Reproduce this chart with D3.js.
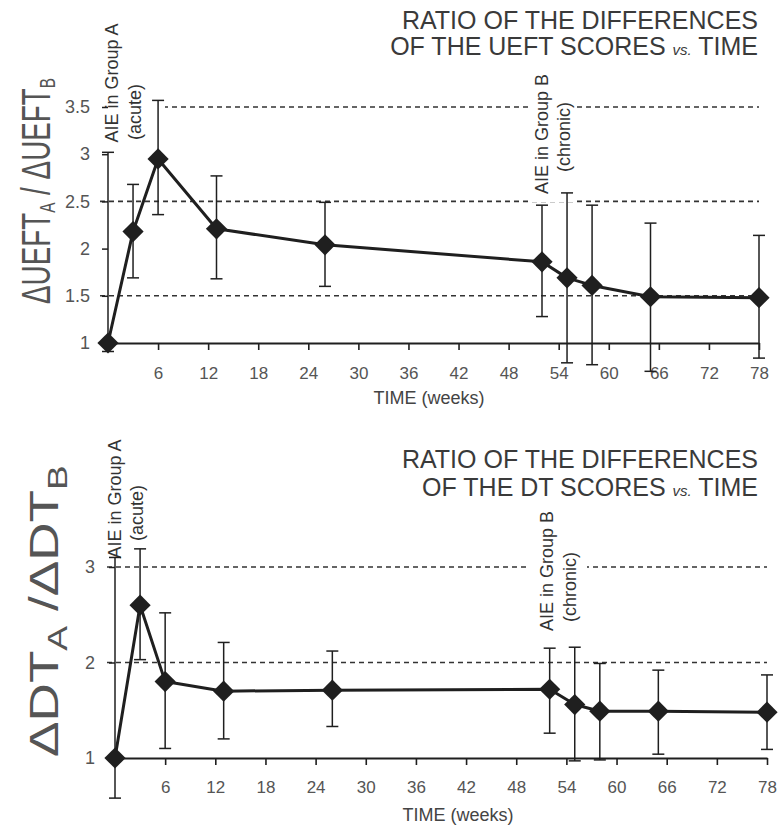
<!DOCTYPE html>
<html>
<head>
<meta charset="utf-8">
<script src="https://cdn.jsdelivr.net/npm/d3@7"></script>
<style>
  html, body { margin: 0; padding: 0; background: #ffffff; }
  svg { display: block; font-family: "Liberation Sans", Arial, sans-serif; }
</style>
</head>
<body>
<script>
// ---------------- DATA ----------------
const weeks = [0, 3, 6, 13, 26, 52, 55, 58, 65, 78];

const ueftRatio = [1.00, 2.18, 2.95, 2.21, 2.04, 1.86, 1.69, 1.61, 1.49, 1.48];
const ueftLow   = [0.91, 1.69, 2.36, 1.68, 1.60, 1.28, 0.79, 0.77, 0.70, 0.84];
const ueftHigh  = [3.02, 2.68, 3.57, 2.77, 2.49, 2.46, 2.59, 2.46, 2.27, 2.14];

const dtRatio = [1.00, 2.60, 1.80, 1.70, 1.71, 1.72, 1.56, 1.49, 1.49, 1.48];
const dtLow   = [0.58, 2.03, 1.10, 1.20, 1.33, 1.26, 0.97, 0.98, 1.04, 1.09];
const dtHigh  = [3.10, 3.19, 2.52, 2.21, 2.12, 2.15, 2.16, 1.99, 1.92, 1.87];

const xTicks = [6, 12, 18, 24, 30, 36, 42, 48, 54, 60, 66, 72, 78];
const ueftYTicks = [1, 1.5, 2, 2.5, 3, 3.5];
const ueftGrid = [1.5, 2.5, 3.5];
const dtYTicks = [1, 2, 3];
const dtGrid = [2, 3];

const ueftTitle = ["RATIO OF THE DIFFERENCES", "OF THE UEFT SCORES", "TIME"];
const dtTitle = ["RATIO OF THE DIFFERENCES", "OF THE DT SCORES", "TIME"];
const xLabel = "TIME (weeks)";
const annA = ["AIE in Group A", "(acute)"];
const annB = ["AIE in Group B", "(chronic)"];

// ---------------- DRAW ----------------
const W = 779, H = 827;
const INK = "#1f1f1f";
const svg = d3.select("body").append("svg").attr("width", W).attr("height", H);

function drawPanel(cfg) {
  const x = d3.scaleLinear().domain([0, 78]).range(cfg.xRange);
  const y = d3.scaleLinear().domain(cfg.yDomain).range(cfg.yRange);
  const g = svg.append("g");

  // dashed gridlines
  g.selectAll("line.grid").data(cfg.grid).join("line")
    .attr("class", "grid")
    .attr("x1", x(0) - 8).attr("x2", x(78))
    .attr("y1", d => y(d)).attr("y2", d => y(d))
    .attr("stroke", "#333").attr("stroke-width", 1.6)
    .attr("stroke-dasharray", "5,4");

  // annotation knockout boxes + text
  cfg.ann.forEach(a => {
    if (a.box) {
      g.append("rect").attr("x", a.box[0]).attr("y", a.box[1])
        .attr("width", a.box[2]).attr("height", a.box[3]).attr("fill", "#fff");
    }
    a.lines.forEach((t, i) => {
      g.append("text")
        .attr("transform", `translate(${a.pos[i][0]},${a.pos[i][1]}) rotate(-90)`)
        .attr("text-anchor", "middle")
        .attr("font-size", 18).attr("fill", "#333")
        .text(t);
    });
  });

  // x axis
  const xa = g.append("g")
    .attr("transform", `translate(0,${y(1)})`)
    .call(d3.axisBottom(x).tickValues(xTicks).tickSize(7).tickSizeOuter(0)
      .tickPadding(cfg.xPad).tickFormat(d3.format("d")));
  xa.select(".domain").attr("stroke", INK).attr("stroke-width", 2);
  xa.selectAll(".tick line").attr("stroke", INK).attr("stroke-width", 1.6);
  xa.selectAll(".tick text").attr("font-size", 17).attr("fill", "#555")
    .attr("font-family", "'Liberation Sans', Arial, sans-serif");

  // y axis
  const ya = g.append("g")
    .attr("transform", `translate(${x(0)},0)`)
    .call(d3.axisLeft(y).tickValues(cfg.yTicks).tickSize(6)
      .tickPadding(cfg.yPad).tickFormat(d3.format("~g")));
  ya.select(".domain").remove();
  ya.selectAll(".tick line").attr("stroke", INK).attr("stroke-width", 1.5);
  ya.selectAll(".tick text").attr("font-size", 18).attr("fill", "#555")
    .attr("font-family", "'Liberation Sans', Arial, sans-serif");

  // x label
  g.append("text").attr("x", cfg.xLabelPos[0]).attr("y", cfg.xLabelPos[1])
    .attr("text-anchor", "middle").attr("font-size", 18).attr("fill", "#444")
    .text(xLabel);

  // title
  const tt = g.append("g").attr("font-size", 25).attr("fill", "#3a3a3a");
  tt.append("text").attr("x", 758).attr("y", cfg.titleY[0])
    .attr("text-anchor", "end").text(cfg.title[0]);
  const t2 = tt.append("text").attr("x", 758).attr("y", cfg.titleY[1])
    .attr("text-anchor", "end");
  t2.append("tspan").text(cfg.title[1] + " ");
  t2.append("tspan").attr("font-size", 15).attr("font-style", "italic").text("vs.");
  t2.append("tspan").text(" " + cfg.title[2]);

  // y label (rotated, scaled to reference length)
  const yl = g.append("text")
    .attr("font-size", 40).attr("fill", "#555").attr("text-anchor", "start");
  cfg.yLabel.forEach(p => {
    const ts = yl.append("tspan").text(p.t);
    if (p.sub) ts.attr("font-size", cfg.subSize).attr("dy", cfg.subDy);
    if (p.back) ts.attr("dy", -cfg.subDy);
  });
  const nat = yl.node().getComputedTextLength();
  const sx = cfg.yLabelLen / nat;
  yl.attr("transform",
    `translate(${cfg.yLabelBase},${cfg.yLabelBottom}) rotate(-90) scale(${sx},1)`);

  const data = cfg.v.map((v, i) => ({ w: weeks[i], v, lo: cfg.lo[i], hi: cfg.hi[i] }));

  // error bars
  const eb = g.append("g").attr("stroke", INK).attr("stroke-width", 1.5);
  data.forEach(d => {
    eb.append("line").attr("x1", x(d.w)).attr("x2", x(d.w))
      .attr("y1", y(d.lo)).attr("y2", y(d.hi));
    eb.append("line").attr("x1", x(d.w) - 6).attr("x2", x(d.w) + 6)
      .attr("y1", y(d.lo)).attr("y2", y(d.lo));
    eb.append("line").attr("x1", x(d.w) - 6).attr("x2", x(d.w) + 6)
      .attr("y1", y(d.hi)).attr("y2", y(d.hi));
  });

  // line
  g.append("path").datum(data)
    .attr("fill", "none").attr("stroke", INK).attr("stroke-width", 3)
    .attr("stroke-linejoin", "round")
    .attr("d", d3.line().x(d => x(d.w)).y(d => y(d.v)));

  // diamonds
  g.selectAll("path.pt").data(data).join("path")
    .attr("class", "pt")
    .attr("d", d3.symbol(d3.symbolSquare, 225))
    .attr("transform", d => `translate(${x(d.w)},${y(d.v)}) rotate(45)`)
    .attr("fill", INK);
}

drawPanel({
  xRange: [108, 759], yDomain: [1, 3.5], yRange: [343, 107],
  grid: ueftGrid, yTicks: ueftYTicks, v: ueftRatio, lo: ueftLow, hi: ueftHigh,
  xPad: 17, yPad: 12, xLabelPos: [429, 404],
  title: ueftTitle, titleY: [29, 55],
  yLabel: [{t: "\u0394UEFT"}, {t: "A", sub: true}, {t: " / ", back: true},
           {t: "\u0394UEFT"}, {t: "B", sub: true}],
  subSize: 22, subDy: 5, yLabelBase: 50, yLabelBottom: 304, yLabelLen: 226,
  ann: [
    {box: [100, 14, 65, 134], lines: annA, pos: [[118, 83], [141, 112]]},
    {box: [528, 68, 49, 134], lines: annB, pos: [[548, 134], [570, 137]]}
  ]
});

drawPanel({
  xRange: [115, 767], yDomain: [1, 3], yRange: [758, 567],
  grid: dtGrid, yTicks: dtYTicks, v: dtRatio, lo: dtLow, hi: dtHigh,
  xPad: 16, yPad: 14, xLabelPos: [458, 821],
  title: dtTitle, titleY: [468, 496],
  yLabel: [{t: "\u0394DT"}, {t: "A", sub: true}, {t: " /", back: true},
           {t: "\u0394DT"}, {t: "B", sub: true}],
  subSize: 28, subDy: 9, yLabelBase: 58, yLabelBottom: 757, yLabelLen: 292,
  ann: [
    {box: null, lines: annA, pos: [[121, 499], [143, 513]]},
    {box: [527, 503, 60, 134], lines: annB, pos: [[553, 571], [576, 587]]}
  ]
});
</script>
</body>
</html>
